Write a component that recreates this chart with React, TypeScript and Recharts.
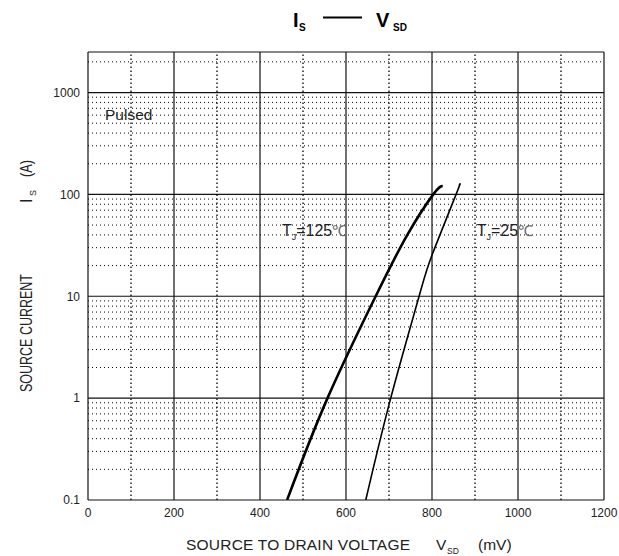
import React from 'react';
import { ComposedChart, Line, XAxis, YAxis, ReferenceLine, Scatter } from 'recharts';

// ---- data ----
const xTicks = [0, 200, 400, 600, 800, 1000, 1200];
const yTicks = [0.1, 1, 10, 100, 1000];
const yDomainTop = 2500;

const xMajorGrid = [200, 400, 600, 800, 1000, 1200];
const xMinorGrid = [100, 300, 500, 700, 900, 1100];
const yMajorGrid = [1, 10, 100, 1000, 2500];
const yMinorGrid = [
  0.2, 0.3, 0.4, 0.5, 0.6, 0.7, 0.8, 0.9,
  2, 3, 4, 5, 6, 7, 8, 9,
  20, 30, 40, 50, 60, 70, 80, 90,
  200, 300, 400, 500, 600, 700, 800, 900,
  2000,
];

// Tj = 125 C  (V in mV, I in A)
const curve125 = [
  { v: 463, i: 0.1 },
  { v: 557, i: 1 },
  { v: 669, i: 10 },
  { v: 741, i: 39 },
  { v: 803, i: 100 },
  { v: 825, i: 121 },
];

// Tj = 25 C
const curve25 = [
  { v: 646, i: 0.1 },
  { v: 704, i: 1 },
  { v: 770, i: 10 },
  { v: 801, i: 26 },
  { v: 856, i: 100 },
  { v: 863, i: 122 },
];

const annotations = [
  { v: 451, i: 39, kind: 'T125' },
  { v: 904, i: 39, kind: 'T25' },
  { v: 39.5, i: 543, kind: 'pulsed' },
];

const FONT = '"Liberation Sans", Arial, Helvetica, sans-serif';

const renderAnnotation = (props: any) => {
  const { cx, cy, payload } = props;
  if (cx == null || cy == null) return null;
  if (payload.kind === 'pulsed') {
    return (
      <text x={cx} y={cy} fontFamily={FONT} fontSize={15.5} fill="#222">
        Pulsed
      </text>
    );
  }
  const num = payload.kind === 'T125' ? '125' : '25';
  return (
    <text x={cx} y={cy} fontFamily={FONT} fontSize={16} fill="#222">
      <tspan>T</tspan>
      <tspan fontSize={9} dy={4}>J</tspan>
      <tspan dy={-4}>={num}</tspan>
      <tspan fill="#666" fontSize={15}>℃</tspan>
    </text>
  );
};

export default function App() {
  const dotted = { stroke: '#000', strokeWidth: 1, strokeDasharray: '1 3' };
  const dottedV = { stroke: '#000', strokeWidth: 1.3, strokeDasharray: '1.5 2.5' };
  const solid = { stroke: '#111', strokeWidth: 1.2 };
  return (
    <div style={{ position: 'absolute', left: 0, top: 0, width: 619, height: 556, background: '#fff' }}>
      <ComposedChart
        width={619}
        height={556}
        margin={{ top: 52, right: 15, bottom: 26, left: 0 }}
      >
        <XAxis
          type="number"
          dataKey="v"
          domain={[0, 1200]}
          ticks={xTicks}
          allowDataOverflow
          height={30}
          tickSize={0}
          tickMargin={8}
          tickLine={false}
          axisLine={{ stroke: '#111', strokeWidth: 1.2 }}
          tick={{ fill: '#222', fontSize: 12, fontFamily: FONT }}
        />
        <YAxis
          type="number"
          dataKey="i"
          scale="log"
          domain={[0.1, yDomainTop]}
          ticks={yTicks}
          allowDataOverflow
          width={88}
          tickSize={0}
          tickMargin={8}
          tickLine={false}
          axisLine={{ stroke: '#111', strokeWidth: 1.2 }}
          tick={{ fill: '#222', fontSize: 12, fontFamily: FONT }}
          tickFormatter={(t: number) => String(t)}
        />
        {yMinorGrid.map((y) => (
          <ReferenceLine key={'ym' + y} y={y} {...dotted} />
        ))}
        {xMinorGrid.map((x) => (
          <ReferenceLine key={'xm' + x} x={x} {...dottedV} />
        ))}
        {yMajorGrid.map((y) => (
          <ReferenceLine key={'yM' + y} y={y} {...solid} />
        ))}
        {xMajorGrid.map((x) => (
          <ReferenceLine key={'xM' + x} x={x} {...solid} />
        ))}
        <Line
          data={curve125}
          dataKey="i"
          type="natural"
          stroke="#000"
          strokeWidth={2.6}
          dot={false}
          isAnimationActive={false}
        />
        <Line
          data={curve25}
          dataKey="i"
          type="natural"
          stroke="#000"
          strokeWidth={1.6}
          dot={false}
          isAnimationActive={false}
        />
        <Scatter
          data={annotations}
          dataKey="i"
          shape={renderAnnotation}
          isAnimationActive={false}
        />
      </ComposedChart>
      <svg
        width={619}
        height={556}
        style={{ position: 'absolute', left: 0, top: 0, pointerEvents: 'none' }}
      >
        {/* title */}
        <g fontFamily={FONT} fontWeight="bold" fill="#000">
          <text x={293} y={27} fontSize={20}>I</text>
          <text x={299} y={31} fontSize={10}>S</text>
          <line x1={323} x2={362} y1={17.5} y2={17.5} stroke="#000" strokeWidth={2} />
          <text x={376} y={27} fontSize={20}>V</text>
          <text x={393} y={31} fontSize={10}>SD</text>
        </g>
        {/* x axis label */}
        <g fontFamily={FONT} fill="#222">
          <text x={186} y={550} fontSize={15.5} textLength={224}>SOURCE TO DRAIN VOLTAGE</text>
          <text x={436} y={550} fontSize={15.5}>V</text>
          <text x={447} y={554} fontSize={8.5}>SD</text>
          <text x={478} y={550} fontSize={15.5}>(mV)</text>
        </g>
        {/* y axis label */}
        <g fontFamily={FONT} fill="#222" transform="translate(32,392) rotate(-90)">
          <text x={0} y={0} fontSize={16} textLength={118} lengthAdjust="spacingAndGlyphs">SOURCE CURRENT</text>
          <text x={189} y={0} fontSize={16}>I</text>
          <text x={196} y={4} fontSize={9}>S</text>
          <text x={215} y={0} fontSize={16} textLength={17} lengthAdjust="spacingAndGlyphs">(A)</text>
        </g>
      </svg>
    </div>
  );
}
